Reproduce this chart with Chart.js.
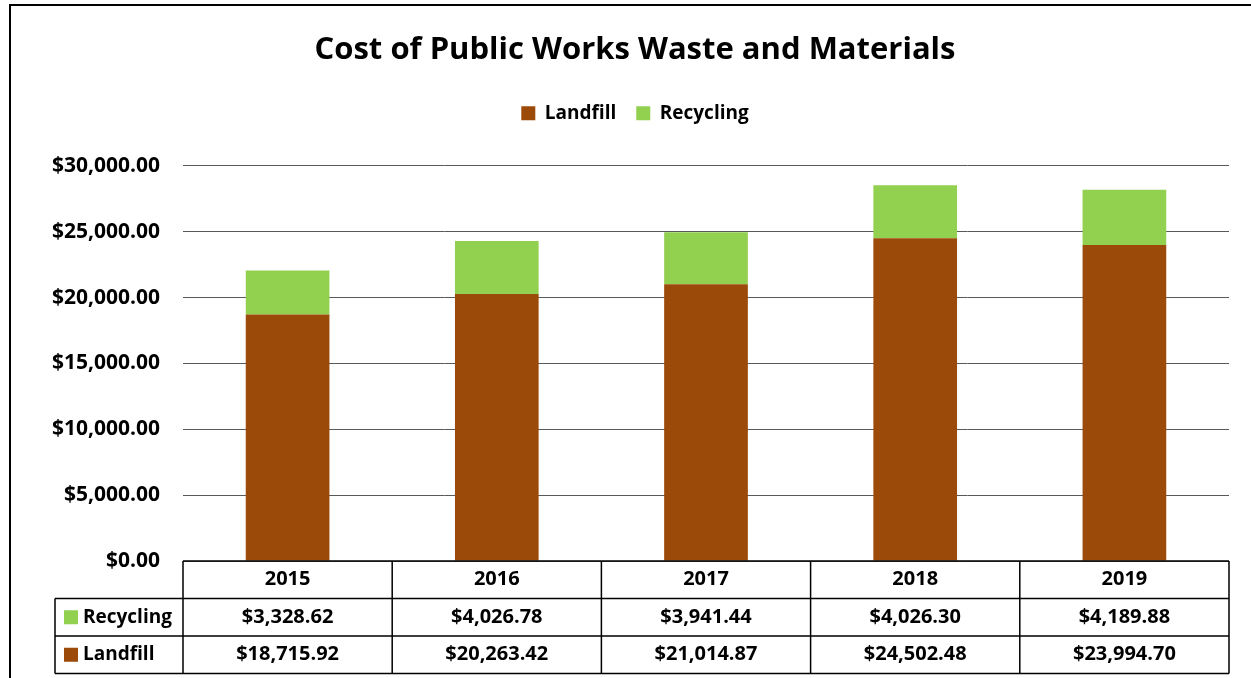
<!DOCTYPE html>
<html>
<head>
<meta charset="utf-8">
<script src="https://cdn.jsdelivr.net/npm/chart.js@4/dist/chart.umd.min.js"></script>
<style>
  html, body { margin: 0; padding: 0; background: #fff; }
  #wrap { position: relative; width: 1251px; height: 678px; }
</style>
</head>
<body>
<div id="wrap"><canvas id="c" width="1251" height="678"></canvas></div>
<script>
const categories = ['2015', '2016', '2017', '2018', '2019'];
const landfill = [18715.92, 20263.42, 21014.87, 24502.48, 23994.70];
const recycling = [3328.62, 4026.78, 3941.44, 4026.30, 4189.88];
const seriesNames = ['Landfill', 'Recycling'];
const titleText = 'Cost of Public Works Waste and Materials';

const FONT = '"Open Sans", Lato, sans-serif';
const C_LAND = '#9C4A09';
const C_REC = '#92D050';
const PAD_LEFT = 41;
const AREA_LEFT = 183;

const money = v => '$' + v.toLocaleString('en-US', {minimumFractionDigits: 2, maximumFractionDigits: 2});

const framePlugin = {
  id: 'frame',
  beforeDraw(chart) {
    const ctx = chart.ctx;
    ctx.save();
    ctx.fillStyle = '#fff';
    ctx.fillRect(0, 0, chart.width, chart.height);
    ctx.strokeStyle = '#000';
    ctx.lineWidth = 2;
    ctx.beginPath();
    ctx.moveTo(10, chart.height);
    ctx.lineTo(10, 5);
    ctx.lineTo(chart.width, 5);
    ctx.stroke();
    ctx.restore();
  }
};

const tablePlugin = {
  id: 'dataTable',
  afterDraw(chart) {
    const ctx = chart.ctx;
    const area = chart.chartArea;
    const x = chart.scales.x;
    const n = categories.length;
    const cw = (area.right - area.left) / n;
    const rowH = 37.5;
    const top = area.bottom;
    const leftCol = 55;
    ctx.save();
    ctx.strokeStyle = '#000';
    ctx.lineWidth = 1.5;
    ctx.beginPath();
    ctx.moveTo(area.left, top); ctx.lineTo(area.right, top);
    for (let r = 1; r <= 3; r++) {
      ctx.moveTo(leftCol, top + r * rowH); ctx.lineTo(area.right, top + r * rowH);
    }
    ctx.moveTo(leftCol, top + rowH); ctx.lineTo(leftCol, top + 3 * rowH);
    for (let i = 0; i <= n; i++) {
      const xx = area.left + i * cw;
      ctx.moveTo(xx, top); ctx.lineTo(xx, top + 3 * rowH);
    }
    ctx.stroke();

    ctx.font = 'bold 20px ' + FONT;
    ctx.textAlign = 'center';
    ctx.textBaseline = 'middle';
    const rows = [
      {name: null, values: categories},
      {name: seriesNames[1], color: C_REC, values: recycling.map(money)},
      {name: seriesNames[0], color: C_LAND, values: landfill.map(money)}
    ];
    rows.forEach((row, r) => {
      const cy = top + r * rowH + rowH / 2;
      row.values.forEach((v, i) => {
        ctx.fillStyle = '#000';
        ctx.fillText(v, x.getPixelForValue(i), cy);
      });
      if (row.name) {
        ctx.fillStyle = row.color;
        ctx.fillRect(leftCol + 9, cy - 7, 14, 14);
        ctx.fillStyle = '#000';
        ctx.textAlign = 'left';
        ctx.font = 'bold 19px ' + FONT;
        ctx.fillText(row.name, leftCol + 28, cy);
        ctx.font = 'bold 20px ' + FONT;
        ctx.textAlign = 'center';
      }
    });
    ctx.restore();
  }
};

new Chart(document.getElementById('c'), {
  type: 'bar',
  data: {
    labels: categories,
    datasets: [
      {label: seriesNames[0], data: landfill, backgroundColor: C_LAND, borderWidth: 0, categoryPercentage: 1, barPercentage: 0.4},
      {label: seriesNames[1], data: recycling, backgroundColor: C_REC, borderWidth: 0, categoryPercentage: 1, barPercentage: 0.4}
    ]
  },
  options: {
    responsive: false,
    animation: false,
    layout: {padding: {left: PAD_LEFT, right: 22, top: 0, bottom: 117}},
    plugins: {
      title: {
        display: true,
        text: titleText,
        color: '#000',
        font: {family: FONT, size: 31, weight: 'bold'},
        padding: {top: 32, bottom: 14.6}
      },
      legend: {
        display: true,
        labels: {
          color: '#000',
          font: {family: FONT, size: 19, weight: 'bold'},
          boxWidth: 14, boxHeight: 14,
          padding: 20
        }
      },
      tooltip: {enabled: false}
    },
    scales: {
      x: {
        display: true,
        position: 'top',
        stacked: true,
        grid: {display: false},
        border: {display: false},
        ticks: {display: false},
        afterFit(scale) { scale.height = 33; }
      },
      y: {
        stacked: true,
        min: 0, max: 30000,
        border: {display: false},
        grid: {color: '#595959', lineWidth: 1, drawTicks: false},
        ticks: {
          stepSize: 5000,
          color: '#000',
          padding: 23,
          font: {family: FONT, size: 21, weight: 'bold'},
          callback: v => money(v)
        },
        afterFit(scale) { scale.width = AREA_LEFT - PAD_LEFT; }
      }
    }
  },
  plugins: [framePlugin, tablePlugin]
});
</script>
</body>
</html>
